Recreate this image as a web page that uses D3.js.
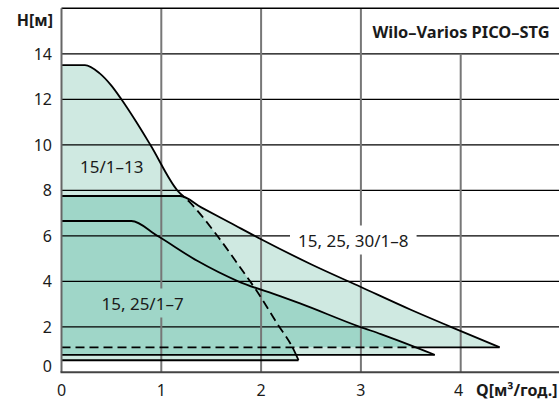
<!DOCTYPE html>
<html><head><meta charset="utf-8">
<script src="https://cdn.jsdelivr.net/npm/d3@7"></script>
<style>
body{margin:0;background:#fff}
svg{display:block}
text{font-family:"Noto Sans",sans-serif}
</style>
</head><body>
<svg id="c" width="559" height="403"></svg>
<script>
// ---- data ----
const xTicks = [0, 1, 2, 3, 4];
const yTicks = [0, 2, 4, 6, 8, 10, 12, 14];
const seriesNames = ["15/1–13", "15, 25, 30/1–8", "15, 25/1–7"];
// max curves (Q m3/h, H m)
const curve13 = [[0,13.5],[0.235,13.5],[0.38,13.15],[0.5,12.6],[0.6,12.0],[0.75,11.0],[0.89,10.0],[1.16,8.0],[1.28,7.5],[1.57,5.95],[1.8,4.55],[1.96,3.55],[2.16,2.15],[2.32,1.05],[2.375,0.53]];
const curve8  = [[0,7.75],[1.19,7.75],[1.4,7.25],[1.7,6.55],[2.0,5.85],[2.5,4.75],[3.0,3.75],[3.5,2.75],[3.9,2.0],[4.39,1.1]];
const curve7  = [[0,6.65],[0.70,6.65],[0.96,6.0],[1.36,4.9],[1.77,4.0],[2.19,3.35],[2.39,3.03],[2.99,2.0],[3.2,1.68],[3.74,0.77]];
// min curves (constant H)
const minH13 = 0.53, minH8 = 1.1, minH7 = 0.77;
const title = "Wilo–Varios PICO–STG";
const yTitle = "H[м]";
const xTitle = "Q[м³/год.]";

// ---- drawing ----
const svg = d3.select("#c");
const W = 559;
const x = d3.scaleLinear().domain([0, 5]).range([61.5, 560.5]);
const y = d3.scaleLinear().domain([0, 16]).range([372.3, 8.3]);
const lightC = "#cfe9e1", darkC = "#9fd6c8";

const line = d3.line().x(d => x(d[0])).y(d => y(d[1])).curve(d3.curveMonotoneX);
const region = (c, m) => line(c) + `L${x(0)},${y(m)}Z`;
const regions = {r13: region(curve13, minH13), r8: region(curve8, minH8), r7: region(curve7, minH7)};

const defs = svg.append("defs");
Object.entries(regions).forEach(([k, p]) => {
  defs.append("clipPath").attr("id", "clip_" + k).append("path").attr("d", p);
  const m = defs.append("mask").attr("id", "out_" + k).attr("maskUnits", "userSpaceOnUse")
    .attr("x", 0).attr("y", 0).attr("width", W).attr("height", 403);
  m.append("rect").attr("width", W).attr("height", 403).attr("fill", "#fff");
  m.append("path").attr("d", p).attr("fill", "#000");
});

// fills
const gF = svg.append("g");
Object.values(regions).forEach(p => gF.append("path").attr("d", p).attr("fill", lightC));
[["r8","r13"],["r7","r13"],["r7","r8"]].forEach(([a,b]) =>
  gF.append("path").attr("d", regions[a]).attr("fill", darkC).attr("clip-path", `url(#clip_${b})`));

// labels (measure first for grid knockouts)
const gL = svg.append("g").attr("font-size", 17).attr("fill", "#1a1a1a");
const labelPos = [[80, 166], [298, 240], [101.5, 303]];
const lbls = seriesNames.map((n, i) => gL.append("text").attr("x", labelPos[i][0]).attr("y", labelPos[i][1])
  .attr("dominant-baseline", "central").text(n));

const gm = defs.append("mask").attr("id", "gridMask").attr("maskUnits", "userSpaceOnUse")
  .attr("x", 0).attr("y", 0).attr("width", W).attr("height", 403);
gm.append("rect").attr("width", W).attr("height", 403).attr("fill", "#fff");
[1, 2].forEach(i => {
  const b = lbls[i].node().getBBox();
  gm.append("rect").attr("x", b.x - 8).attr("y", b.y - 3).attr("width", b.width + 16).attr("height", b.height + 6).attr("fill", "#000");
});

// grid
const gG = svg.append("g").attr("mask", "url(#gridMask)");
yTicks.filter(v => v > 0).forEach(v => gG.append("line").attr("x1", x(0)).attr("x2", W).attr("y1", y(v)).attr("y2", y(v))
  .attr("stroke", "#000").attr("stroke-width", 1.2));
xTicks.filter(v => v > 0).forEach(v => gG.append("line").attr("x1", x(v)).attr("x2", x(v))
  .attr("y1", v === 4 ? y(14) : y(16)).attr("y2", y(0)).attr("stroke", "#777").attr("stroke-width", 2));
svg.append("line").attr("x1", x(0)).attr("x2", W).attr("y1", y(16)).attr("y2", y(16)).attr("stroke", "#000").attr("stroke-width", 1.4);

// curves
const gC = svg.append("g").attr("fill", "none").attr("stroke", "#000").attr("stroke-width", 1.8);
const dash = "9,5";
gC.append("path").attr("d", line(curve13)).attr("mask", "url(#out_r8)");
gC.append("path").attr("d", line(curve13)).attr("clip-path", "url(#clip_r8)").attr("stroke-dasharray", dash);
gC.append("path").attr("d", line(curve8));
gC.append("path").attr("d", line(curve7));
const hline = (m, c) => `M${x(0)},${y(m)}H${x(c[c.length-1][0])}`;
gC.append("path").attr("d", hline(minH13, curve13));
gC.append("path").attr("d", hline(minH7, curve7));
gC.append("path").attr("d", hline(minH8, curve8)).attr("mask", "url(#out_r7)");
gC.append("path").attr("d", hline(minH8, curve8)).attr("clip-path", "url(#clip_r7)").attr("stroke-dasharray", dash);

// axes
svg.append("line").attr("x1", x(0)).attr("x2", x(0)).attr("y1", y(16)).attr("y2", y(0)).attr("stroke", "#666").attr("stroke-width", 2);
svg.append("line").attr("x1", x(0) - 1).attr("x2", W).attr("y1", y(0)).attr("y2", y(0)).attr("stroke", "#444").attr("stroke-width", 2);

const gT = svg.append("g").attr("font-size", 16).attr("fill", "#1a1a1a");
yTicks.forEach(v => gT.append("text").attr("x", 52).attr("y", v === 0 ? y(v) - 6 : y(v))
  .attr("text-anchor", "end").attr("dominant-baseline", "central").text(v));
xTicks.forEach(v => gT.append("text").attr("x", x(v) - (v === 4 ? 2 : 0)).attr("y", 390)
  .attr("text-anchor", "middle").attr("dominant-baseline", "central").text(v));
gT.append("text").attr("x", 53).attr("y", 20).attr("text-anchor", "end").attr("dominant-baseline", "central")
  .attr("font-weight", "bold").text(yTitle);
gT.append("text").attr("x", 476).attr("y", 390).attr("dominant-baseline", "central")
  .attr("font-weight", "bold").text(xTitle);
svg.append("text").attr("x", 461).attr("y", 31).attr("text-anchor", "middle").attr("dominant-baseline", "central")
  .attr("font-size", 16.4).attr("font-weight", "bold").attr("fill", "#1a1a1a").text(title);
</script>
</body></html>
